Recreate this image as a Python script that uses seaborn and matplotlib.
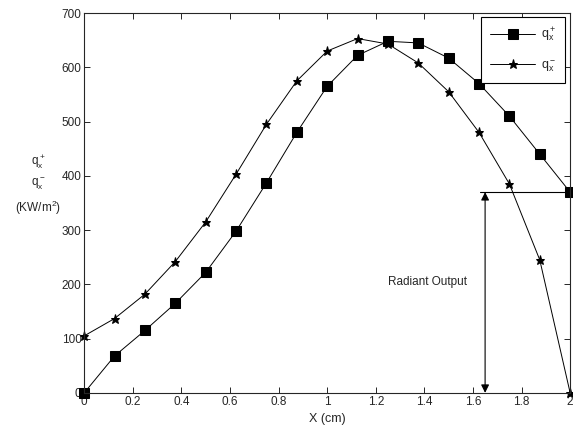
import matplotlib
matplotlib.use("Agg")
from matplotlib import pyplot as plt
import matplotlib.ticker as mtick
import seaborn as sns
import pandas as pd

x_cm = [0, 0.125, 0.25, 0.375, 0.5, 0.625, 0.75, 0.875, 1.0,
        1.125, 1.25, 1.375, 1.5, 1.625, 1.75, 1.875, 2.0]
q_plus = [0, 68, 115, 165, 222, 298, 387, 480, 565,
          622, 648, 645, 617, 570, 510, 440, 370]
q_minus = [105, 137, 182, 242, 315, 403, 495, 575, 630,
           653, 643, 608, 555, 480, 385, 245, 0]

radiant_x = 1.65
radiant_level = 370

sns.set_style("ticks")
plt.rcParams["font.family"] = ["Liberation Sans", "DejaVu Sans"]
plt.rcParams["mathtext.fontset"] = "custom"
plt.rcParams["mathtext.rm"] = "Liberation Sans"
plt.rcParams["mathtext.it"] = "Liberation Sans"

df = pd.DataFrame({"x": x_cm, "plus": q_plus, "minus": q_minus})

fig = plt.figure(figsize=(5.73, 4.36), dpi=100)
ax = fig.add_axes([0.147, 0.099, 0.848, 0.871])

sns.lineplot(data=df, x="x", y="plus", ax=ax, color="black", lw=0.7,
             marker="s", markersize=7.5, markeredgecolor="black",
             label=r"$\mathregular{q_x^+}$", clip_on=False)
sns.lineplot(data=df, x="x", y="minus", ax=ax, color="black", lw=0.7,
             marker="*", markersize=6.5, markeredgecolor="black",
             label=r"$\mathregular{q_x^-}$", clip_on=False)

# radiant output annotation
ax.plot([1.63, 2.0], [radiant_level, radiant_level], color="black", lw=0.8)
ax.annotate("", xy=(radiant_x, 0), xytext=(radiant_x, radiant_level),
            arrowprops=dict(arrowstyle="<|-|>", color="black", lw=0.8,
                            mutation_scale=12, shrinkA=0, shrinkB=0))
ax.text(1.575, 205, "Radiant Output", ha="right", va="center", fontsize=8.5)

ax.set_xlim(0, 2)
ax.set_ylim(0, 700)
ax.xaxis.set_major_locator(mtick.MultipleLocator(0.2))
ax.yaxis.set_major_locator(mtick.MultipleLocator(100))
ax.xaxis.set_major_formatter(mtick.FormatStrFormatter("%g"))
ax.tick_params(direction="in", top=True, right=True, labelsize=8.5,
               length=4, width=0.7, pad=2)
for s in ax.spines.values():
    s.set_linewidth(0.8)
    s.set_visible(True)

ax.set_xlabel("X (cm)", fontsize=9, labelpad=4)
ax.set_ylabel("")
fig.text(0.067, 0.575, r"$\mathregular{q_x^+}$" + "\n" + r"$\mathregular{q_x^-}$"
         + "\n" + r"(KW/m$\mathregular{^2}$)",
         ha="center", va="center", fontsize=8.5, linespacing=1.5)

leg = ax.legend(loc="upper right", bbox_to_anchor=(0.99, 0.99), fontsize=9,
                frameon=True, fancybox=False, framealpha=1,
                edgecolor="black", handlelength=3.6, handletextpad=0.5,
                borderpad=0.7, labelspacing=1.1, borderaxespad=0)
leg.get_frame().set_linewidth(0.8)

fig.savefig("out.png", dpi=100)
